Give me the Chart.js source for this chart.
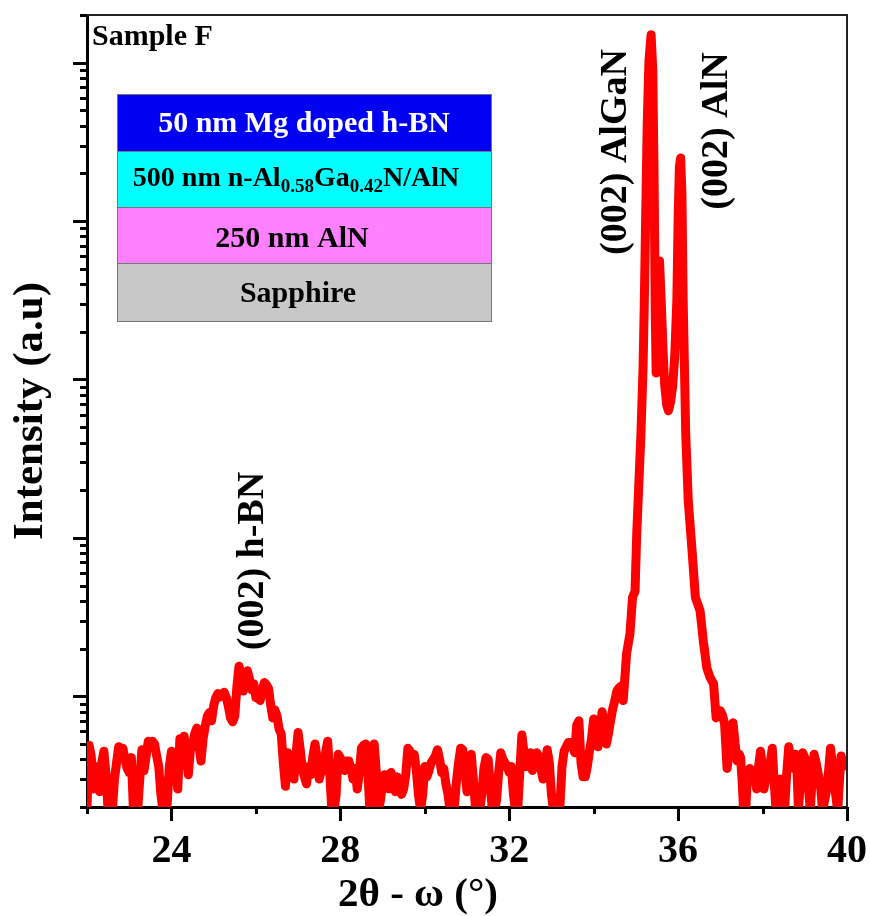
<!DOCTYPE html>
<html>
<head>
<meta charset="utf-8">
<title>XRD Sample F</title>
<script src="https://cdn.jsdelivr.net/npm/chart.js@4.4.1/dist/chart.umd.min.js"></script>
<style>
  html, body { margin: 0; padding: 0; background: #fff; }
</style>
</head>
<body>
<canvas id="xrdChart" width="870" height="916"></canvas>
<script>
// 2theta - omega scan
const twoTheta = [
  22.00, 22.05, 22.10, 22.15, 22.20, 22.25, 22.30, 22.35, 22.40, 22.45,
  22.50, 22.55, 22.60, 22.65, 22.70, 22.75, 22.80, 22.85, 22.90, 22.95,
  23.00, 23.05, 23.10, 23.15, 23.20, 23.25, 23.30, 23.35, 23.40, 23.45,
  23.50, 23.55, 23.60, 23.65, 23.70, 23.75, 23.80, 23.85, 23.90, 23.95,
  24.00, 24.05, 24.10, 24.15, 24.20, 24.25, 24.30, 24.35, 24.40, 24.45,
  24.50, 24.55, 24.60, 24.65, 24.70, 24.75, 24.80, 24.85, 24.90, 24.95,
  25.00, 25.05, 25.10, 25.15, 25.20, 25.25, 25.30, 25.35, 25.40, 25.45,
  25.50, 25.55, 25.60, 25.65, 25.70, 25.75, 25.80, 25.85, 25.90, 25.95,
  26.00, 26.05, 26.10, 26.15, 26.20, 26.25, 26.30, 26.35, 26.40, 26.45,
  26.50, 26.55, 26.60, 26.65, 26.70, 26.75, 26.80, 26.85, 26.90, 26.95,
  27.00, 27.05, 27.10, 27.15, 27.20, 27.25, 27.30, 27.35, 27.40, 27.45,
  27.50, 27.55, 27.60, 27.65, 27.70, 27.75, 27.80, 27.85, 27.90, 27.95,
  28.00, 28.05, 28.10, 28.15, 28.20, 28.25, 28.30, 28.35, 28.40, 28.45,
  28.50, 28.55, 28.60, 28.65, 28.70, 28.75, 28.80, 28.85, 28.90, 28.95,
  29.00, 29.05, 29.10, 29.15, 29.20, 29.25, 29.30, 29.35, 29.40, 29.45,
  29.50, 29.55, 29.60, 29.65, 29.70, 29.75, 29.80, 29.85, 29.90, 29.95,
  30.00, 30.05, 30.10, 30.15, 30.20, 30.25, 30.30, 30.35, 30.40, 30.45,
  30.50, 30.55, 30.60, 30.65, 30.70, 30.75, 30.80, 30.85, 30.90, 30.95,
  31.00, 31.05, 31.10, 31.15, 31.20, 31.25, 31.30, 31.35, 31.40, 31.45,
  31.50, 31.55, 31.60, 31.65, 31.70, 31.75, 31.80, 31.85, 31.90, 31.95,
  32.00, 32.05, 32.10, 32.15, 32.20, 32.25, 32.30, 32.35, 32.40, 32.45,
  32.50, 32.55, 32.60, 32.65, 32.70, 32.75, 32.80, 32.85, 32.90, 32.95,
  33.00, 33.05, 33.10, 33.15, 33.20, 33.25, 33.30, 33.35, 33.40, 33.45,
  33.50, 33.55, 33.60, 33.65, 33.70, 33.75, 33.80, 33.85, 33.90, 33.95,
  34.00, 34.05, 34.10, 34.15, 34.20, 34.25, 34.30, 34.35, 34.40, 34.45,
  34.50, 34.55, 34.60, 34.65,
  34.70, 34.78, 34.86, 34.92, 34.98, 35.02, 35.07, 35.12, 35.17, 35.20,
  35.23, 35.27, 35.31, 35.36, 35.40, 35.43, 35.46, 35.48, 35.52, 35.56,
  35.60, 35.64, 35.68, 35.73, 35.77, 35.82, 35.87, 35.92, 35.97, 36.00,
  36.03, 36.06, 36.09, 36.12, 36.15, 36.18, 36.24, 36.33, 36.41, 36.52,
  36.60, 36.68, 36.76, 36.84,
  36.90, 36.95, 37.00, 37.05, 37.10, 37.16, 37.20, 37.25, 37.30, 37.35,
  37.40, 37.45, 37.48, 37.52, 37.55, 37.60, 37.65, 37.70, 37.75, 37.78,
  37.83, 37.86, 37.90, 37.95, 38.00, 38.03, 38.08, 38.12, 38.17, 38.23,
  38.27, 38.32, 38.37, 38.42, 38.47, 38.52, 38.57, 38.62, 38.66, 38.70,
  38.74, 38.78, 38.82, 38.85, 38.90, 38.95, 39.00, 39.05, 39.09, 39.13,
  39.18, 39.22, 39.27, 39.33, 39.38, 39.42, 39.47, 39.51, 39.56, 39.61,
  39.65, 39.70, 39.74, 39.78, 39.82, 39.86, 39.90, 39.94, 40.00
];
const intensity = [
  2.0, 4.9, 4.2, 2.6, 3.6, 3.0, 2.5, 3.8, 4.5, 3.2,
  1.9, 2.3, 1.9, 3.0, 3.8, 4.8, 4.2, 4.7, 4.0, 3.5,
  3.3, 4.1, 1.9, 1.9, 1.9, 3.0, 4.6, 3.4, 4.2, 5.2,
  4.8, 5.2, 5.0, 4.2, 3.6, 2.4, 1.9, 1.9, 2.1, 3.6,
  4.5, 3.9, 3.4, 2.6, 5.4, 4.4, 5.6, 4.2, 3.2, 4.6,
  4.9, 5.8, 6.3, 4.9, 3.9, 5.4, 6.5, 7.5, 7.9, 7.0,
  8.7, 9.8, 10.4, 9.9, 10.3, 10.6, 9.8, 8.6, 7.3, 6.9,
  7.5, 11.5, 15.5, 13.5, 10.8, 12.5, 14.5, 12.8, 11.0, 12.0,
  9.8, 10.8, 9.4, 11.0, 12.2, 11.8, 11.2, 8.8, 7.3, 8.2,
  7.5, 6.2, 5.8, 3.8, 2.7, 4.4, 3.7, 4.2, 3.0, 4.3,
  5.9, 4.6, 3.5, 3.1, 2.8, 3.6, 3.2, 4.2, 5.0, 4.1,
  3.0, 3.4, 3.6, 4.4, 5.2, 3.2, 1.9, 1.9, 2.4, 4.3,
  4.1, 3.6, 3.4, 3.9, 3.9, 3.5, 3.0, 3.5, 2.6, 3.3,
  4.7, 4.9, 5.0, 3.4, 1.9, 3.0, 5.0, 3.4, 1.9, 2.2,
  2.8, 3.2, 3.0, 2.6, 3.3, 2.9, 2.5, 3.1, 2.8, 2.4,
  2.6, 3.2, 4.7, 4.5, 4.0, 4.3, 3.4, 2.4, 1.9, 2.4,
  3.6, 3.1, 3.4, 3.8, 4.0, 4.2, 4.6, 4.0, 3.3, 3.5,
  2.8, 2.4, 1.9, 1.9, 2.0, 2.9, 3.8, 4.7, 4.6, 3.4,
  2.5, 3.6, 4.3, 3.0, 2.0, 1.9, 1.9, 2.4, 3.5, 4.1,
  4.0, 2.8, 1.9, 1.9, 2.2, 3.3, 4.4, 4.0, 3.8, 3.6,
  3.3, 3.6, 2.4, 1.9, 1.9, 3.3, 5.7, 4.4, 3.6, 4.3,
  4.4, 3.4, 3.8, 4.4, 4.2, 3.5, 3.0, 3.6, 4.6, 3.8,
  2.4, 1.9, 1.9, 1.9, 2.0, 3.6, 4.5, 4.8, 5.1, 5.1,
  5.0, 4.4, 6.6, 7.0, 3.8, 3.1, 3.1, 3.6, 4.5, 5.4,
  7.2, 6.0, 4.8, 6.0, 8.0, 6.5, 5.0, 5.8, 7.0, 8.3,
  9.4, 10.8, 11.3, 11.6,
  9.4, 18.6, 24.8, 42, 46, 106, 220, 455, 1190, 3140,
  10000, 43000, 103000, 150000, 90000, 20000, 2500, 1100, 2800, 5600,
  3100, 1600, 935, 690, 635, 720, 900, 1400, 3140, 10000,
  22000, 25000, 15000, 3140, 1200, 455, 172, 83, 42, 34.7,
  22, 15.1, 13.1, 12,
  7.3, 8.0, 8.1, 7.6, 6.7, 3.5, 4.2, 6.0, 6.8, 5.0,
  3.9, 4.3, 4.1, 2.8, 1.9, 1.9, 3.4, 3.5, 3.0, 3.4,
  3.0, 2.6, 3.5, 4.5, 3.6, 2.6, 3.0, 3.4, 3.6, 4.7,
  3.0, 1.9, 2.3, 3.0, 2.2, 1.9, 3.2, 4.8, 4.2, 3.9,
  3.5, 4.3, 3.2, 1.9, 3.0, 4.4, 4.1, 3.4, 2.6, 1.9,
  3.2, 4.3, 3.8, 3.1, 2.6, 1.9, 2.2, 2.5, 3.3, 4.7,
  3.8, 2.8, 2.3, 1.9, 2.9, 4.2, 3.6, 3.9, 3.9
];
const xTickLabels = [24, 28, 32, 36, 40];
const layerNames = [
  [{ t: "50 nm Mg doped h-BN" }],
  [{ t: "500 nm n-Al" }, { t: "0.58", sub: true }, { t: "Ga" }, { t: "0.42", sub: true }, { t: "N/AlN" }],
  [{ t: "250 nm AlN" }],
  [{ t: "Sapphire" }]
];
const layerColors = ["#0000f2", "#00ffff", "#ff80ff", "#c8c8c8"];
const peakNames = ["(002) h-BN", "(002) AlGaN", "(002) AlN"];

const serif = "'Liberation Serif', 'Times New Roman', serif";

// rich text with subscripts, centred on cx
function drawRich(ctx, parts, cx, baseline, size, color) {
  const subSize = Math.round(size * 0.68);
  let w = 0;
  parts.forEach(p => {
    ctx.font = "bold " + (p.sub ? subSize : size) + "px " + serif;
    p.w = ctx.measureText(p.t).width;
    w += p.w;
  });
  let x = cx - w / 2;
  ctx.fillStyle = color;
  ctx.textAlign = "left";
  ctx.textBaseline = "alphabetic";
  parts.forEach(p => {
    ctx.font = "bold " + (p.sub ? subSize : size) + "px " + serif;
    ctx.fillText(p.t, x, p.sub ? baseline + size * 0.22 : baseline);
    x += p.w;
  });
}

const decorations = {
  id: "decorations",
  afterDraw(chart) {
    const ctx = chart.ctx;
    const area = chart.chartArea;
    const xs = chart.scales.x;
    const ys = chart.scales.y;
    ctx.save();

    // top / right frame
    ctx.strokeStyle = "#222";
    ctx.lineWidth = 2;
    ctx.beginPath();
    ctx.moveTo(area.left, area.top);
    ctx.lineTo(area.right, area.top);
    ctx.lineTo(area.right, area.bottom);
    ctx.stroke();

    // tick marks, outside
    ctx.strokeStyle = "#000";
    ctx.lineWidth = 3;
    xs.ticks.forEach(t => {
      const px = Math.round(xs.getPixelForValue(t.value)) + 0.5;
      const len = xTickLabels.includes(t.value) ? 14 : 7;
      ctx.beginPath();
      ctx.moveTo(px, area.bottom);
      ctx.lineTo(px, area.bottom + len);
      ctx.stroke();
    });
    for (let d = 1; d <= 1e5; d *= 10) {
      for (let m = 1; m <= 9; m++) {
        const v = m * d;
        if (v < ys.min || v > ys.max) continue;
        const py = Math.round(ys.getPixelForValue(v)) + 0.5;
        const len = m === 1 ? 14 : 7;
        ctx.beginPath();
        ctx.moveTo(area.left, py);
        ctx.lineTo(area.left - len, py);
        ctx.stroke();
      }
    }

    // x axis title (sits left of centre in the original)
    ctx.fillStyle = "#000";
    ctx.font = "bold 41px " + serif;
    ctx.textAlign = "center";
    ctx.textBaseline = "alphabetic";
    ctx.fillText("2\u03b8 - \u03c9 (\u00b0)", 418, 906);

    // sample name
    ctx.font = "bold 30px " + serif;
    ctx.textAlign = "left";
    ctx.fillText("Sample F", 92, 45);

    // layer stack
    const boxL = 117, boxR = 491;
    const edges = [94, 151, 207, 263, 321];
    const baselines = [132, 186, 247, 302];
    const centres = [304, 296, 292, 298];
    const sizes = [30, 28, 30, 30];
    layerNames.forEach((parts, i) => {
      ctx.fillStyle = layerColors[i];
      ctx.fillRect(boxL, edges[i], boxR - boxL, edges[i + 1] - edges[i]);
      ctx.strokeStyle = "#777";
      ctx.lineWidth = 1;
      ctx.strokeRect(boxL + 0.5, edges[i] + 0.5, boxR - boxL, edges[i + 1] - edges[i]);
      drawRich(ctx, parts, centres[i], baselines[i], sizes[i], i === 0 ? "#fff" : "#000");
    });

    // peak labels, rotated
    const notes = [
      { x: xs.getPixelForValue(25.93), y: 561 },
      { x: xs.getPixelForValue(34.53), y: 152 },
      { x: xs.getPixelForValue(36.93), y: 131 }
    ];
    ctx.fillStyle = "#000";
    ctx.font = "bold 38px " + serif;
    ctx.textAlign = "center";
    ctx.textBaseline = "middle";
    notes.forEach((n, i) => {
      ctx.save();
      ctx.translate(n.x, n.y);
      ctx.rotate(-Math.PI / 2);
      ctx.fillText(peakNames[i], 0, 0);
      ctx.restore();
    });

    ctx.restore();
  }
};

const ctx = document.getElementById("xrdChart").getContext("2d");

const chart = new Chart(ctx, {
  type: "line",
  data: {
    datasets: [
      {
        label: "Sample F",
        data: twoTheta.map((t, i) => ({ x: t, y: intensity[i] })),
        borderColor: "#ff0000",
        backgroundColor: "#ff0000",
        borderWidth: 9,
        borderJoinStyle: "round",
        borderCapStyle: "round",
        pointRadius: 0,
        tension: 0,
        clip: 0
      }
    ]
  },
  options: {
    responsive: false,
    animation: false,
    devicePixelRatio: 1,
    layout: { padding: { top: 15, right: 23, left: 0, bottom: 0 } },
    plugins: {
      legend: { display: false },
      tooltip: { enabled: false }
    },
    scales: {
      x: {
        type: "linear",
        min: 22,
        max: 40,
        z: 1,
        afterFit: s => {
          s.height = 109;
          s.paddingLeft = 0;
          s.paddingRight = 0;
        },
        grid: { display: false, drawTicks: false },
        border: { display: true, color: "#000", width: 3 },
        ticks: {
          stepSize: 2,
          autoSkip: false,
          maxRotation: 0,
          padding: 21,
          color: "#000",
          font: { family: serif, size: 40, weight: "bold" },
          callback: v => (xTickLabels.includes(v) ? String(v) : "")
        }
      },
      y: {
        type: "logarithmic",
        min: 2,
        max: 200000,
        z: 1,
        afterFit: s => { s.width = 87; },
        grid: { display: false, drawTicks: false },
        border: { display: true, color: "#000", width: 3 },
        ticks: { display: false },
        title: {
          display: true,
          text: "Intensity (a.u)",
          color: "#000",
          font: { family: serif, size: 43, weight: "bold" },
          padding: { top: 5, bottom: 0 }
        }
      }
    }
  },
  plugins: [decorations]
});
</script>
</body>
</html>
